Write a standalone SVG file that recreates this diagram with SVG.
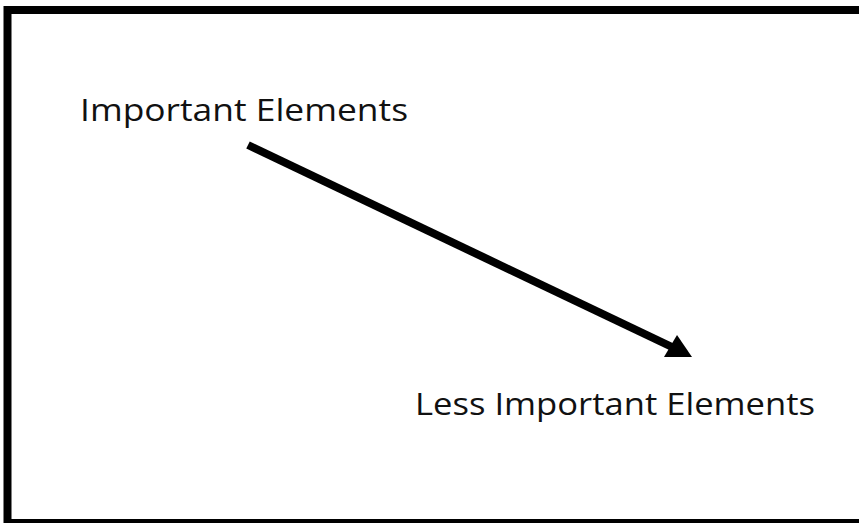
<svg xmlns="http://www.w3.org/2000/svg" width="859" height="523" viewBox="0 0 859 523">
  <style>
    .lbl { font-family: "Open Sans", "Liberation Sans", sans-serif; font-size: 31px; fill: #111; }
    .frame { fill: #fff; stroke: #000; stroke-width: 8; }
    .conn { stroke: #000; stroke-width: 8; fill: none; }
  </style>
  <rect x="0" y="0" width="859" height="523" fill="#fff"/>
  <rect class="frame" x="7.5" y="10" width="860" height="513"/>
  <g id="important">
    <text class="lbl" x="80" y="121" textLength="328" lengthAdjust="spacingAndGlyphs">Important Elements</text>
  </g>
  <g id="less-important">
    <text class="lbl" x="415" y="415" textLength="400" lengthAdjust="spacingAndGlyphs">Less Important Elements</text>
  </g>
  <g id="connectors">
    <line class="conn" x1="248" y1="145" x2="672" y2="347"/>
    <polygon points="692,357 664,357 677,335" fill="#000"/>
  </g>
</svg>
